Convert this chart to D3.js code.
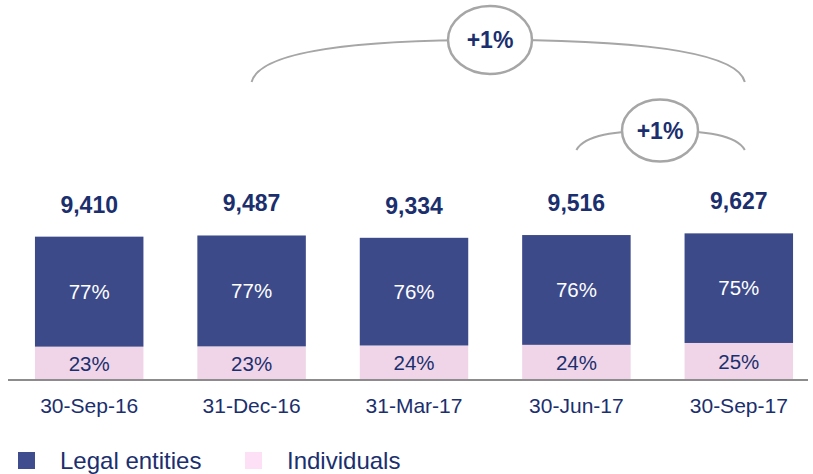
<!DOCTYPE html>
<html>
<head>
<meta charset="utf-8">
<script src="https://cdn.jsdelivr.net/npm/d3@7"></script>
<style>
  html, body { margin: 0; padding: 0; background: #fff; }
  svg { display: block; font-family: 'Liberation Sans', Arial, sans-serif; }
</style>
</head>
<body>
<svg id="chart" width="813" height="474"></svg>
<script>
const categories = ['30-Sep-16', '31-Dec-16', '31-Mar-17', '30-Jun-17', '30-Sep-17']
const totals = [9410, 9487, 9334, 9516, 9627]
const legalShare = [77, 77, 76, 76, 75]
const individualShare = [23, 23, 24, 24, 25]

const growthFrom = ['31-Dec-16', '30-Jun-17']
const growthTo = ['30-Sep-17', '30-Sep-17']
const growthLabel = ['+1%', '+1%']

const seriesNames = ['Legal entities', 'Individuals']

const navy = '#3c4a89'
const pink = '#f0d5e8'
const textNavy = '#1b2f6e'
const grey = '#a6a6a6'

const svg = d3.select('#chart')

const x = d3.scaleBand()
  .domain(categories)
  .range([8, 820])
  .paddingInner(0.332)
  .paddingOuter(0.166)

const y = d3.scaleLinear()
  .domain([0, 10000])
  .range([379.5, 227.7])

const rows = categories.map((c, i) => ({
  cat: c,
  total: totals[i],
  ind: totals[i] * individualShare[i] / 100,
  legal: totals[i],
  legalPct: legalShare[i],
  indPct: individualShare[i]
}))

// individuals (bottom)
svg.selectAll('rect.ind')
  .data(rows)
  .enter().append('rect')
    .attr('class', 'ind')
    .attr('x', d => x(d.cat))
    .attr('width', x.bandwidth())
    .attr('y', d => y(d.ind))
    .attr('height', d => y(0) - y(d.ind))
    .style('fill', pink)

// legal entities (top)
svg.selectAll('rect.legal')
  .data(rows)
  .enter().append('rect')
    .attr('class', 'legal')
    .attr('x', d => x(d.cat))
    .attr('width', x.bandwidth())
    .attr('y', d => y(d.total))
    .attr('height', d => y(d.ind) - y(d.total))
    .style('fill', navy)

// axis line
svg.append('line')
  .attr('x1', 8).attr('x2', 808)
  .attr('y1', y(0) + 0.5).attr('y2', y(0) + 0.5)
  .style('stroke', '#8c8c8c')
  .style('stroke-width', 2)

const cx = d => x(d.cat) + x.bandwidth() / 2

svg.selectAll('text.legalPct')
  .data(rows)
  .enter().append('text')
    .attr('x', cx)
    .attr('y', d => (y(d.total) + y(d.ind)) / 2 + 7)
    .attr('text-anchor', 'middle')
    .style('font-size', '20.5px')
    .style('fill', '#fff')
    .text(d => d.legalPct + '%')

svg.selectAll('text.indPct')
  .data(rows)
  .enter().append('text')
    .attr('x', cx)
    .attr('y', d => (y(d.ind) + y(0)) / 2 + 8)
    .attr('text-anchor', 'middle')
    .style('font-size', '20.5px')
    .style('fill', textNavy)
    .text(d => d.indPct + '%')

svg.selectAll('text.total')
  .data(rows)
  .enter().append('text')
    .attr('x', cx)
    .attr('y', d => y(d.total) - 24)
    .attr('text-anchor', 'middle')
    .style('font-size', '23px')
    .style('font-weight', 'bold')
    .style('fill', textNavy)
    .text(d => d3.format(',')(d.total))

const xAxis = svg.append('g')
  .attr('transform', `translate(0,${y(0)})`)
  .call(d3.axisBottom(x).tickSize(0).tickPadding(0))
xAxis.select('.domain').remove()
xAxis.selectAll('text')
  .attr('dy', null)
  .attr('y', 33)
  .style('font-size', '21px')
  .style('font-family', "'Liberation Sans', Arial, sans-serif")
  .style('fill', textNavy)

// growth annotations
const growth = growthFrom.map((f, i) => ({ from: f, to: growthTo[i], label: growthLabel[i] }))
const arcs = [
  { top: 40, end: 82, rx: 42, ry: 34 },
  { top: 130.5, end: 150, rx: 38, ry: 31 }
]

growth.forEach((g, i) => {
  const a = arcs[i]
  const x0 = x(g.from) + x.bandwidth() / 2
  const x1 = x(g.to) + x.bandwidth() / 2 + 6
  const mx = i === 0 ? 490 : 660
  const path = d3.path()
  path.moveTo(x0, a.end)
  path.bezierCurveTo(x0 + 8, a.top + (a.end - a.top) * 0.25, x0 + (mx - x0) * 0.45, a.top, mx, a.top)
  path.bezierCurveTo(x1 - (x1 - mx) * 0.45, a.top, x1 - 8, a.top + (a.end - a.top) * 0.25, x1, a.end)
  svg.append('path')
    .attr('d', path.toString())
    .style('fill', 'none')
    .style('stroke', grey)
    .style('stroke-width', 2)
  svg.append('ellipse')
    .attr('cx', mx).attr('cy', a.top)
    .attr('rx', a.rx).attr('ry', a.ry)
    .style('fill', '#fff')
    .style('stroke', grey)
    .style('stroke-width', 2.5)
  svg.append('text')
    .attr('x', mx).attr('y', a.top + 8)
    .attr('text-anchor', 'middle')
    .style('font-size', '23px')
    .style('font-weight', 'bold')
    .style('fill', textNavy)
    .text(g.label)
})

// legend
const legendX = [18, 245]
const legendColours = ['#3f4c8e', '#fde0f5']
const legend = svg.selectAll('g.legend')
  .data(seriesNames)
  .enter().append('g')
    .attr('transform', (d, i) => `translate(${legendX[i]},452)`)
legend.append('rect')
  .attr('width', 17).attr('height', 17)
  .style('fill', (d, i) => legendColours[i])
legend.append('text')
  .attr('x', 42).attr('y', 16.5)
  .style('font-size', '24px')
  .style('fill', textNavy)
  .text(d => d)
</script>
</body>
</html>
